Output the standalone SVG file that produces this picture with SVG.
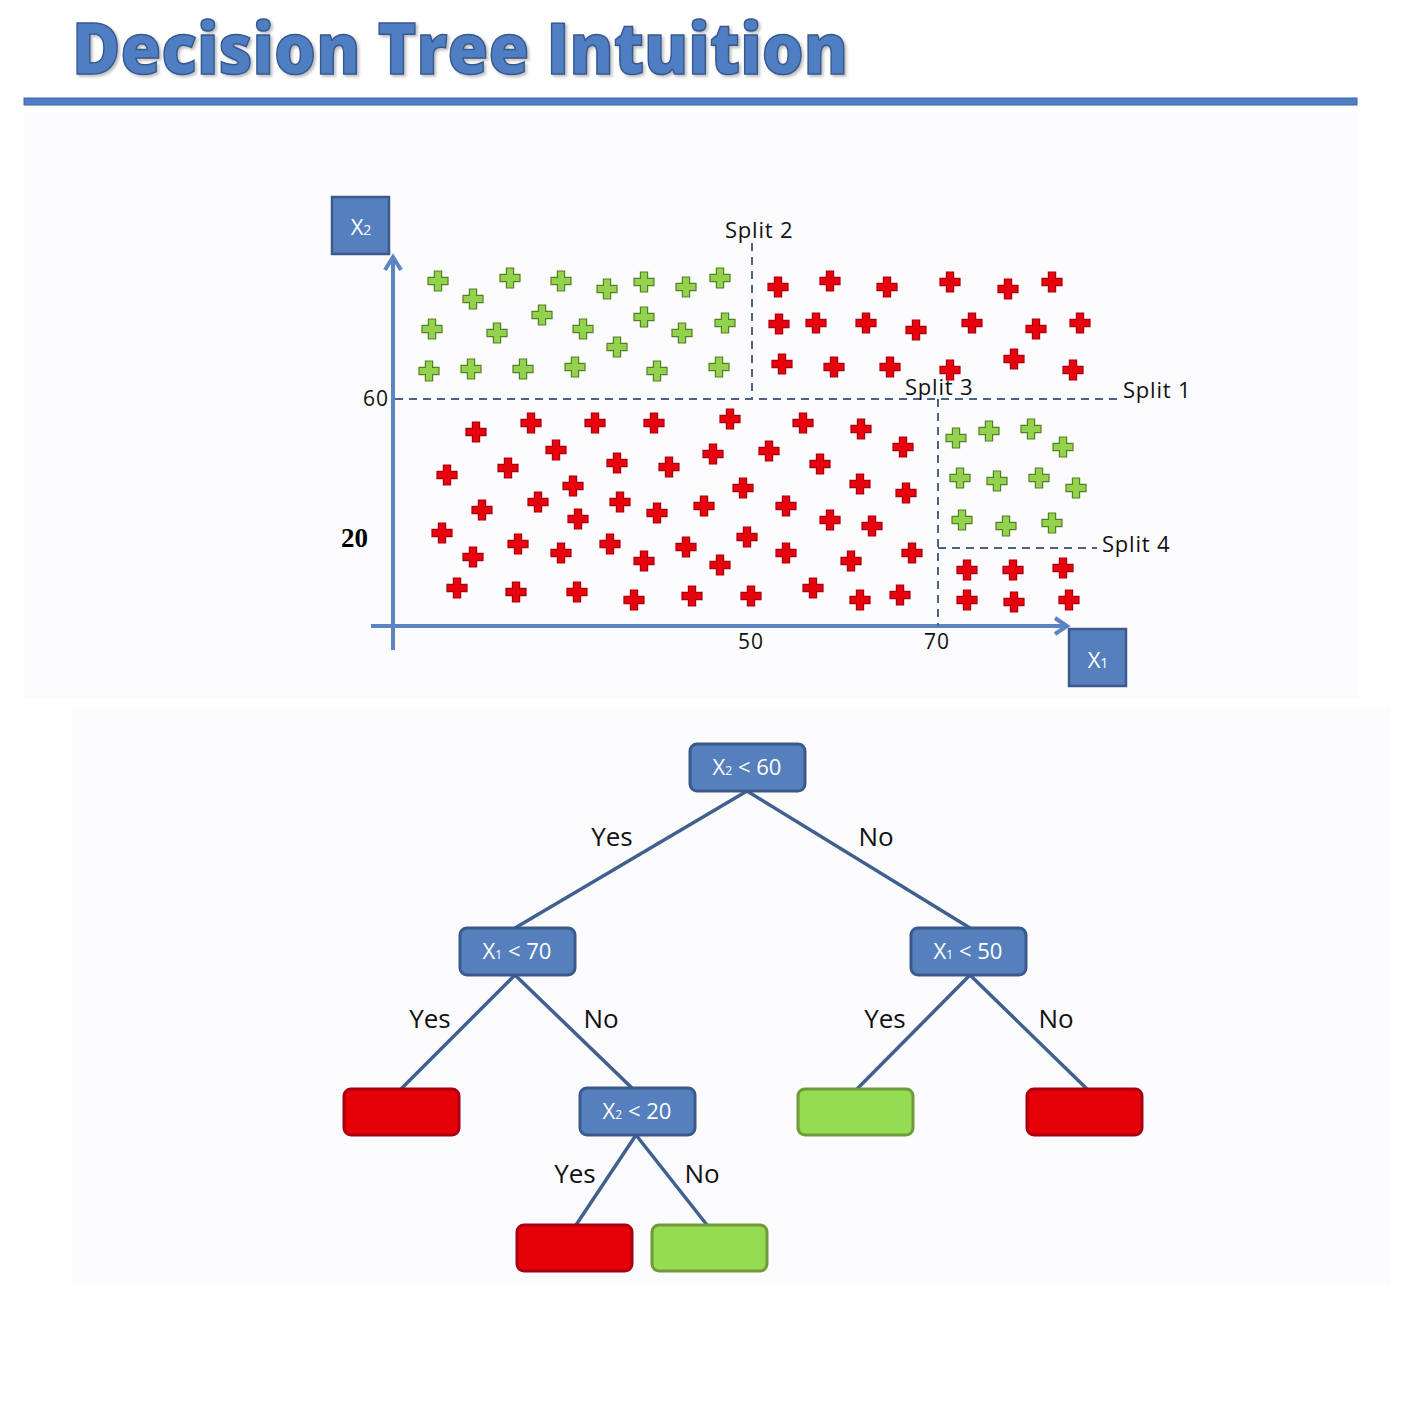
<svg xmlns="http://www.w3.org/2000/svg" xmlns:xlink="http://www.w3.org/1999/xlink" width="1408" height="1416" viewBox="0 0 1408 1416">
<defs>
<style>
.lbl{font-family:"Open Sans","Noto Sans","Liberation Sans",sans-serif;fill:#111;}
.split{font-size:22px;letter-spacing:0.8px;}
.edge{font-size:26px;}
.nodeTxt{font-family:"Open Sans","Liberation Sans",sans-serif;fill:#fff;font-size:22px;text-anchor:middle;}
.box{fill:#5580bd;stroke:#3b5a8c;stroke-width:3;}
.redLeaf{fill:#e60008;stroke:#a8000e;stroke-width:3;}
.greenLeaf{fill:#95dc52;stroke:#6f9a3a;stroke-width:3;}
.conn{stroke:#40608f;stroke-width:3.5;fill:none;}
.axis{stroke:#5b84c2;stroke-width:4;fill:none;}
.dash{stroke:#4b6185;stroke-width:2;stroke-dasharray:8 6;fill:none;}
.r{fill:#e8000c;stroke:#a8000f;stroke-width:1.2;}
.g{fill:#93d24c;stroke:#557f25;stroke-width:1.2;}
.axbox{fill:#5580bd;stroke:#3c5a8a;stroke-width:2.5;}
</style>
<path id="p" d="M-3.6,-10 H3.6 V-3.6 H10 V3.6 H3.6 V10 H-3.6 V3.6 H-10 V-3.6 H-3.6 Z"/>
<filter id="sh" x="-5%" y="-20%" width="110%" height="150%">
<feDropShadow dx="2" dy="2" stdDeviation="1.5" flood-color="#777" flood-opacity="0.5"/>
</filter>
</defs>
<rect width="1408" height="1416" fill="#ffffff"/>
<rect x="24" y="112" width="1334" height="586" fill="#fcfcfe"/>
<rect x="72" y="707" width="1318" height="578" fill="#fcfcfe"/>

<g id="title">
<text x="72" y="74" font-family="'Open Sans','Liberation Sans',sans-serif" font-weight="800" font-size="70" fill="#4f7ec2" stroke="#35588f" stroke-width="1.5" textLength="776" lengthAdjust="spacingAndGlyphs" filter="url(#sh)">Decision Tree Intuition</text>
<rect x="24" y="98" width="1333" height="7" fill="#4f7ec2" stroke="#3d67a8" stroke-width="1"/>
</g>

<g id="plot">
<g id="axes">
<line class="axis" x1="393" y1="650" x2="393" y2="258"/>
<polyline class="axis" points="385,270 393,257 401,270"/>
<line class="axis" x1="371" y1="626" x2="1066" y2="626"/>
<polyline class="axis" points="1055,618 1067,626 1055,634"/>
</g>
<g id="splits">
<line class="dash" x1="395" y1="399" x2="1120" y2="399"/>
<line class="dash" x1="752" y1="243" x2="752" y2="399"/>
<line class="dash" x1="938" y1="399" x2="938" y2="626"/>
<line class="dash" x1="938" y1="548" x2="1097" y2="548"/>
</g>
<g id="axis-x2">
<rect class="axbox" x="332" y="197" width="57" height="57"/>
<text class="nodeTxt" x="361" y="235" font-size="26"><tspan>X</tspan><tspan font-size="14">2</tspan></text>
</g>
<g id="axis-x1">
<rect class="axbox" x="1069" y="629" width="57" height="57"/>
<text class="nodeTxt" x="1098" y="668" font-size="26"><tspan>X</tspan><tspan font-size="14">1</tspan></text>
</g>
<g id="labels">
<text class="lbl split" x="725" y="238">Split 2</text>
<text class="lbl split" x="1123" y="398">Split 1</text>
<text class="lbl split" x="905" y="395">Split 3</text>
<text class="lbl split" x="1102" y="552">Split 4</text>
<text class="lbl" x="363" y="406" font-size="21" letter-spacing="1">60</text>
<text class="lbl" x="751" y="649" font-size="21" letter-spacing="1" text-anchor="middle">50</text>
<text class="lbl" x="937" y="649" font-size="21" letter-spacing="1" text-anchor="middle">70</text>
<text x="341" y="547" font-family="'Liberation Serif',serif" font-weight="bold" font-size="27" fill="#000">20</text>
</g>
<g id="green-points" class="g">
<use href="#p" x="438" y="281"/><use href="#p" x="473" y="299"/><use href="#p" x="510" y="278"/><use href="#p" x="561" y="281"/><use href="#p" x="607" y="289"/><use href="#p" x="644" y="282"/><use href="#p" x="686" y="287"/><use href="#p" x="720" y="278"/>
<use href="#p" x="432" y="329"/><use href="#p" x="497" y="333"/><use href="#p" x="542" y="315"/><use href="#p" x="583" y="329"/><use href="#p" x="617" y="347"/><use href="#p" x="644" y="317"/><use href="#p" x="682" y="333"/><use href="#p" x="725" y="323"/>
<use href="#p" x="429" y="371"/><use href="#p" x="471" y="369"/><use href="#p" x="523" y="369"/><use href="#p" x="575" y="367"/><use href="#p" x="657" y="371"/><use href="#p" x="719" y="367"/>
<use href="#p" x="956" y="438"/><use href="#p" x="989" y="431"/><use href="#p" x="1031" y="429"/><use href="#p" x="1063" y="447"/><use href="#p" x="960" y="478"/><use href="#p" x="997" y="481"/><use href="#p" x="1039" y="478"/><use href="#p" x="1076" y="488"/><use href="#p" x="962" y="520"/><use href="#p" x="1006" y="526"/><use href="#p" x="1052" y="523"/>
</g>
<g id="red-points" class="r">
<use href="#p" x="778" y="287"/><use href="#p" x="830" y="281"/><use href="#p" x="887" y="287"/><use href="#p" x="950" y="282"/><use href="#p" x="1008" y="289"/><use href="#p" x="1052" y="282"/>
<use href="#p" x="779" y="324"/><use href="#p" x="816" y="323"/><use href="#p" x="866" y="323"/><use href="#p" x="916" y="330"/><use href="#p" x="972" y="323"/><use href="#p" x="1036" y="329"/><use href="#p" x="1080" y="323"/>
<use href="#p" x="782" y="364"/><use href="#p" x="834" y="367"/><use href="#p" x="890" y="367"/><use href="#p" x="950" y="370"/><use href="#p" x="1014" y="359"/><use href="#p" x="1073" y="370"/>
<use href="#p" x="476" y="432"/><use href="#p" x="531" y="423"/><use href="#p" x="595" y="423"/><use href="#p" x="556" y="450"/><use href="#p" x="617" y="463"/><use href="#p" x="447" y="475"/><use href="#p" x="508" y="468"/><use href="#p" x="573" y="486"/><use href="#p" x="482" y="510"/><use href="#p" x="538" y="502"/><use href="#p" x="620" y="502"/><use href="#p" x="578" y="519"/><use href="#p" x="442" y="533"/><use href="#p" x="518" y="544"/><use href="#p" x="473" y="557"/><use href="#p" x="561" y="553"/><use href="#p" x="610" y="544"/><use href="#p" x="644" y="561"/><use href="#p" x="457" y="588"/><use href="#p" x="516" y="592"/><use href="#p" x="577" y="592"/><use href="#p" x="634" y="600"/>
<use href="#p" x="654" y="423"/><use href="#p" x="730" y="419"/><use href="#p" x="803" y="423"/><use href="#p" x="861" y="429"/><use href="#p" x="669" y="467"/><use href="#p" x="713" y="454"/><use href="#p" x="769" y="451"/><use href="#p" x="820" y="464"/><use href="#p" x="903" y="447"/><use href="#p" x="743" y="488"/><use href="#p" x="860" y="484"/><use href="#p" x="906" y="493"/><use href="#p" x="657" y="513"/><use href="#p" x="704" y="506"/><use href="#p" x="786" y="506"/><use href="#p" x="830" y="520"/><use href="#p" x="872" y="526"/><use href="#p" x="747" y="537"/><use href="#p" x="686" y="547"/><use href="#p" x="720" y="565"/><use href="#p" x="786" y="553"/><use href="#p" x="851" y="561"/><use href="#p" x="912" y="553"/><use href="#p" x="692" y="596"/><use href="#p" x="751" y="596"/><use href="#p" x="813" y="588"/><use href="#p" x="860" y="600"/><use href="#p" x="900" y="595"/>
<use href="#p" x="967" y="570"/><use href="#p" x="1013" y="570"/><use href="#p" x="1063" y="568"/><use href="#p" x="967" y="600"/><use href="#p" x="1014" y="602"/><use href="#p" x="1069" y="600"/>
</g>
</g>

<g id="connectors">
<line class="conn" x1="747" y1="791" x2="515" y2="928"/>
<line class="conn" x1="747" y1="791" x2="970" y2="928"/>
<line class="conn" x1="515" y1="975" x2="401" y2="1089"/>
<line class="conn" x1="515" y1="975" x2="633" y2="1089"/>
<line class="conn" x1="970" y1="975" x2="857" y2="1089"/>
<line class="conn" x1="970" y1="975" x2="1087" y2="1089"/>
<line class="conn" x1="636" y1="1135" x2="576" y2="1225"/>
<line class="conn" x1="636" y1="1135" x2="707" y2="1225"/>
<text class="lbl edge" x="612" y="846" text-anchor="middle">Yes</text>
<text class="lbl edge" x="876" y="846" text-anchor="middle">No</text>
<text class="lbl edge" x="430" y="1028" text-anchor="middle">Yes</text>
<text class="lbl edge" x="601" y="1028" text-anchor="middle">No</text>
<text class="lbl edge" x="885" y="1028" text-anchor="middle">Yes</text>
<text class="lbl edge" x="1056" y="1028" text-anchor="middle">No</text>
<text class="lbl edge" x="575" y="1183" text-anchor="middle">Yes</text>
<text class="lbl edge" x="702" y="1183" text-anchor="middle">No</text>
</g>

<g id="n-root"><rect class="box" x="690" y="744" width="115" height="47" rx="7"/><text class="nodeTxt" x="747" y="775"><tspan>X</tspan><tspan font-size="12">2</tspan><tspan> &lt; 60</tspan></text></g>
<g id="n-x1-70"><rect class="box" x="460" y="928" width="115" height="47" rx="7"/><text class="nodeTxt" x="517" y="959"><tspan>X</tspan><tspan font-size="12">1</tspan><tspan> &lt; 70</tspan></text></g>
<g id="n-x1-50"><rect class="box" x="911" y="928" width="115" height="47" rx="7"/><text class="nodeTxt" x="968" y="959"><tspan>X</tspan><tspan font-size="12">1</tspan><tspan> &lt; 50</tspan></text></g>
<g id="n-x2-20"><rect class="box" x="580" y="1088" width="115" height="47" rx="7"/><text class="nodeTxt" x="637" y="1119"><tspan>X</tspan><tspan font-size="12">2</tspan><tspan> &lt; 20</tspan></text></g>
<g id="leaf-red-1"><rect class="redLeaf" x="344" y="1089" width="115" height="46" rx="7"/></g>
<g id="leaf-green-1"><rect class="greenLeaf" x="798" y="1089" width="115" height="46" rx="7"/></g>
<g id="leaf-red-2"><rect class="redLeaf" x="1027" y="1089" width="115" height="46" rx="7"/></g>
<g id="leaf-red-3"><rect class="redLeaf" x="517" y="1225" width="115" height="46" rx="7"/></g>
<g id="leaf-green-2"><rect class="greenLeaf" x="652" y="1225" width="115" height="46" rx="7"/></g>
</svg>
